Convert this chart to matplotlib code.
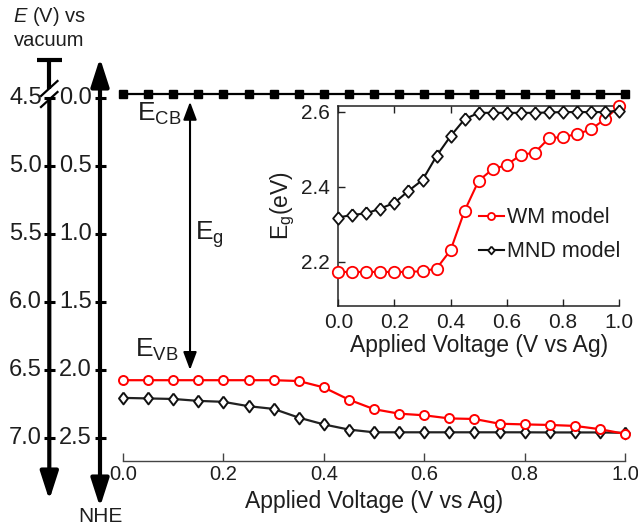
import matplotlib
matplotlib.use('Agg')
import matplotlib.pyplot as plt
import matplotlib.transforms as mtransforms
from matplotlib.patches import ArrowStyle

plt.rcParams['font.family'] = ['Liberation Sans', 'DejaVu Sans']
plt.rcParams['mathtext.fontset'] = 'custom'
plt.rcParams['mathtext.rm'] = 'Liberation Sans'
plt.rcParams['mathtext.it'] = 'Liberation Sans:italic'
plt.rcParams['mathtext.bf'] = 'Liberation Sans:bold'

# ---------------- data ----------------
voltage = [0.00, 0.05, 0.10, 0.15, 0.20, 0.25, 0.30, 0.35, 0.40, 0.45, 0.50,
           0.55, 0.60, 0.65, 0.70, 0.75, 0.80, 0.85, 0.90, 0.95, 1.00]

# conduction band edge (V vs NHE)
cb_nhe = [-0.03, -0.03, -0.03, -0.03, -0.03, -0.03, -0.03, -0.03, -0.03, -0.03, -0.03,
          -0.03, -0.03, -0.03, -0.03, -0.03, -0.03, -0.03, -0.03, -0.03, -0.03]

# valence band edge (V vs NHE)
vb_wm = [2.077, 2.077, 2.077, 2.077, 2.077, 2.077, 2.077, 2.083, 2.130, 2.220, 2.290,
         2.323, 2.335, 2.358, 2.362, 2.397, 2.402, 2.406, 2.413, 2.437, 2.472]
vb_mnd = [2.207, 2.211, 2.215, 2.229, 2.236, 2.268, 2.288, 2.352, 2.402, 2.440, 2.460,
          2.460, 2.460, 2.460, 2.460, 2.460, 2.460, 2.461, 2.461, 2.461, 2.464]

# band gap (eV) for the inset
eg_wm = [2.173, 2.173, 2.173, 2.173, 2.173, 2.173, 2.175, 2.182, 2.231, 2.336, 2.416,
         2.447, 2.458, 2.485, 2.491, 2.529, 2.533, 2.540, 2.553, 2.580, 2.615]
eg_mnd = [2.318, 2.325, 2.329, 2.342, 2.357, 2.389, 2.418, 2.482, 2.535, 2.580, 2.597,
          2.597, 2.597, 2.597, 2.597, 2.598, 2.599, 2.599, 2.599, 2.599, 2.603]

x_ticks = [0.0, 0.2, 0.4, 0.6, 0.8, 1.0]
x_ticklabels = ['0.0', '0.2', '0.4', '0.6', '0.8', '1.0']
nhe_ticks = [0.0, 0.5, 1.0, 1.5, 2.0, 2.5]
nhe_ticklabels = ['0.0', '0.5', '1.0', '1.5', '2.0', '2.5']
vac_ticklabels = ['4.5', '5.0', '5.5', '6.0', '6.5', '7.0']
inset_yticks = [2.2, 2.4, 2.6]
inset_yticklabels = ['2.2', '2.4', '2.6']

# ---------------- figure ----------------
W, H = 638, 527
fig = plt.figure(figsize=(W / 100, H / 100), dpi=100)

def fx(px):
    return px / W

def fy(py):
    return 1 - py / H

TXT = '#1e1e1e'

# main axes
ax = fig.add_axes([fx(123), fy(461), fx(625) - fx(123), fy(80) - fy(461)])
ax.set_xlim(0, 1)
ax.set_ylim(2.671, -0.13)
for s in ['left', 'right', 'top']:
    ax.spines[s].set_visible(False)
ax.spines['bottom'].set_color('#444444')
ax.spines['bottom'].set_linewidth(1.0)
ax.set_yticks([])
ax.set_xticks(x_ticks)
ax.set_xticklabels(x_ticklabels)
ax.tick_params(axis='x', direction='in', length=6, width=1, color='#444444',
               labelsize=14.5, pad=3, labelcolor=TXT)
ax.set_xlabel('Applied Voltage (V vs Ag)', fontsize=16.5, color=TXT, labelpad=4)
ax.patch.set_alpha(0)

diamond = [(0, 1), (0.76, 0), (0, -1), (-0.76, 0), (0, 1)]
diamond_in = [(0, 1), (0.86, 0), (0, -1), (-0.86, 0), (0, 1)]

ax.plot(voltage, cb_nhe, '-', color='black', lw=1.6, marker='s', ms=5.2,
        mfc='black', mec='black', clip_on=False, zorder=4)
ax.plot(voltage, vb_mnd, '-', color='#222222', lw=1.6, marker=diamond, ms=8.5,
        mfc='white', mec='#111111', mew=1.4, clip_on=False, zorder=4)
ax.plot(voltage, vb_wm, '-', color='#ff0000', lw=1.6, marker='o', ms=6.5,
        mfc='white', mec='#ff0000', mew=1.4, clip_on=False, zorder=5)

# band labels and E_g arrow
ax.text(0.027, 0.169, r'$\mathregular{E_{CB}}$', fontsize=19, color=TXT,
        ha='left', va='baseline')
ax.text(0.143, 1.046, r'$\mathregular{E_{g}}$', fontsize=19, color=TXT,
        ha='left', va='baseline')
ax.text(0.024, 1.905, r'$\mathregular{E_{VB}}$', fontsize=19, color=TXT,
        ha='left', va='baseline')
ax.annotate('', xy=(0.1335, 0.03), xytext=(0.1335, 2.002),
            arrowprops=dict(arrowstyle=ArrowStyle('<|-|>', head_length=1.2, head_width=0.45),
                            mutation_scale=9, lw=1.5, color='black',
                            shrinkA=0, shrinkB=0))

# ---------------- left potential scales ----------------
trans = mtransforms.blended_transform_factory(fig.transFigure, ax.transData)
for v, lv, ln in zip(nhe_ticks, vac_ticklabels, nhe_ticklabels):
    ax.plot([fx(44), fx(55)], [v, v], transform=trans, color='black', lw=2.2,
            clip_on=False, solid_capstyle='butt')
    ax.plot([fx(94.5), fx(105.5)], [v, v], transform=trans, color='black', lw=2.2,
            clip_on=False, solid_capstyle='butt')
    ax.text(fx(42), v, lv, transform=trans, ha='right', va='center',
            fontsize=17, color=TXT)
    ax.text(fx(92), v, ln, transform=trans, ha='right', va='center',
            fontsize=17, color=TXT)

deco = fig.add_axes([0, 0, 1, 1], zorder=-1)
deco.set_xlim(0, W)
deco.set_ylim(H, 0)
deco.axis('off')

xv, xn = 49.3, 100.0
# vacuum axis: T bar, break, arrow down
deco.plot([36.5, 62], [60, 60], color='black', lw=3, solid_capstyle='butt')
deco.plot([xv, xv], [60, 88.5], color='black', lw=3, solid_capstyle='butt')
deco.plot([41, 57.5], [96, 81], color='black', lw=1.6)
deco.plot([41, 57.5], [107, 92], color='black', lw=1.6)
deco.annotate('', xy=(xv, 500), xytext=(xv, 99.5),
              arrowprops=dict(arrowstyle=ArrowStyle('-|>', head_length=1.55, head_width=0.5),
                              mutation_scale=11, lw=3, color='black',
                              shrinkA=0, shrinkB=0))
# NHE axis double arrow
deco.annotate('', xy=(xn, 507), xytext=(xn, 58),
              arrowprops=dict(arrowstyle=ArrowStyle('<|-|>', head_length=1.55, head_width=0.5),
                              mutation_scale=11, lw=3, color='black',
                              shrinkA=0, shrinkB=0))
deco.text(49, 17, r'$\mathit{E}$ (V) vs', ha='center', va='center', fontsize=14.5, color=TXT)
deco.text(49, 40, 'vacuum', ha='center', va='center', fontsize=14.5, color=TXT)
deco.text(100, 517, 'NHE', ha='center', va='center', fontsize=15, color=TXT)

# ---------------- inset ----------------
axi = fig.add_axes([fx(338.3), fy(305.7), fx(619) - fx(338.3), fy(105.7) - fy(305.7)],
                   zorder=5)
axi.patch.set_alpha(0)
axi.set_xlim(0, 1)
axi.set_ylim(2.083, 2.616)
axi.spines['right'].set_visible(False)
for s in ['left', 'top', 'bottom']:
    axi.spines[s].set_linewidth(1.1)
    axi.spines[s].set_color('#222222')
axi.set_xticks(x_ticks)
axi.set_xticklabels(x_ticklabels)
axi.set_yticks(inset_yticks)
axi.set_yticklabels(inset_yticklabels)
axi.tick_params(direction='in', length=5, width=1, top=True, right=False,
                labelsize=15, labelcolor=TXT, color='#222222')
axi.tick_params(axis='x', pad=5)
axi.tick_params(axis='y', pad=6)
axi.set_xlabel('Applied Voltage (V vs Ag)', fontsize=16.5, color=TXT, labelpad=2)
axi.set_ylabel(r'$\mathregular{E_g}$(eV)', fontsize=16.5, color=TXT, labelpad=3)

axi.plot(voltage, eg_wm, '-', color='#ff0000', lw=1.5, marker='o', ms=8.2,
         mfc='white', mec='#ff0000', mew=1.3, clip_on=False, zorder=4,
         label='WM model')
axi.plot(voltage, eg_mnd, '-', color='#111111', lw=1.5, marker=diamond_in, ms=9,
         mfc='white', mec='#111111', mew=1.3, clip_on=False, zorder=5,
         label='MND model')
leg = axi.legend(loc='center left', bbox_to_anchor=(0.47, 0.355), frameon=False,
                 fontsize=15.5, handlelength=1.15, handletextpad=0.15,
                 labelspacing=0.6, markerscale=0.62, borderaxespad=0)
for t in leg.get_texts():
    t.set_color(TXT)

fig.savefig('out.png', dpi=100)
